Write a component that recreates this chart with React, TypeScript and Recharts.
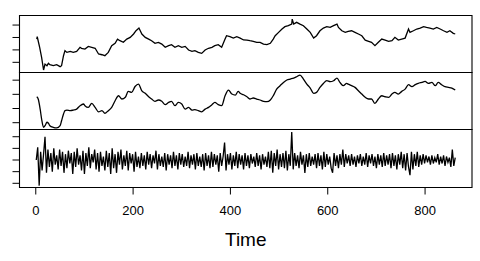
import { LineChart, Line, XAxis, YAxis, ReferenceArea } from "recharts";

// [time, value] pairs
const observed: [number, number][] = [
  [2, 1.87], [3, 2.06], [8, 1.21], [12, 0.4], [16, -0.62], [19, -0.14], [23, -0.27], [26, -0.08],
  [29, -0.19], [36, -0.27], [43, -0.19], [50, -0.35], [53, -0.27], [57, 0.53], [60, 0.94], [64, 0.8],
  [71, 0.88], [77, 0.8], [84, 0.88], [91, 1.21], [94, 1.13], [101, 1.07], [108, 1.28], [115, 1.21],
  [122, 1.13], [129, 0.67], [136, 0.61], [142, 0.53], [149, 0.8], [156, 1.34], [163, 1.53], [168, 1.87],
  [173, 1.74], [180, 1.61], [187, 1.87], [194, 2.01], [201, 2.28], [206, 2.55], [212, 2.76], [218, 2.28],
  [225, 2.01], [232, 1.87], [238, 1.74], [245, 1.53], [252, 1.61], [259, 1.47], [266, 1.21], [273, 1.34],
  [279, 1.42], [286, 1.21], [293, 1.34], [300, 1.21], [307, 1.28], [314, 0.99], [321, 0.88], [327, 0.94],
  [334, 0.8], [341, 0.72], [348, 0.99], [355, 1.13], [362, 1.21], [368, 1.34], [375, 1.42], [382, 1.21],
  [389, 1.87], [392, 2.14], [399, 2.06], [406, 1.95], [413, 2.06], [420, 1.95], [427, 1.8], [434, 1.79],
  [440, 1.74], [447, 1.69], [454, 1.61], [461, 1.61], [468, 1.47], [475, 1.42], [482, 1.53], [488, 1.87],
  [492, 2.14], [499, 2.41], [506, 2.68], [512, 2.87], [519, 2.95], [526, 3.08], [527, 3.48], [530, 3.08],
  [536, 3.22], [543, 3.08], [550, 2.95], [557, 2.68], [564, 2.41], [571, 1.95], [577, 2.14], [584, 2.54],
  [591, 2.76], [598, 2.87], [605, 2.81], [612, 2.95], [619, 3.08], [622, 2.81], [629, 2.54], [636, 2.41],
  [642, 2.49], [649, 2.54], [656, 2.41], [663, 2.28], [670, 2.14], [677, 1.79], [684, 1.69], [690, 1.61],
  [697, 1.34], [704, 1.61], [711, 1.87], [718, 1.79], [725, 1.69], [732, 1.74], [738, 2.01], [745, 1.79],
  [752, 1.87], [759, 1.95], [766, 2.68], [769, 2.41], [776, 2.54], [783, 2.68], [790, 2.76], [797, 2.87],
  [803, 2.81], [810, 2.76], [817, 2.68], [824, 2.81], [831, 2.68], [838, 2.54], [845, 2.41], [851, 2.54],
  [858, 2.33], [862, 2.28],
];

const smooth: [number, number][] = [
  [2, 1.83], [5, 1.67], [9, 0.96], [12, 0.26], [16, -0.33], [19, -0.21], [23, 0.03], [26, -0.04],
  [29, -0.21], [36, -0.33], [43, -0.37], [50, -0.21], [53, 0.14], [57, 0.61], [60, 0.85], [64, 0.89],
  [71, 0.85], [77, 0.89], [84, 0.96], [91, 1.2], [98, 1.32], [101, 1.2], [108, 1.08], [115, 1.36],
  [122, 1.08], [129, 0.77], [136, 0.85], [142, 0.66], [149, 0.85], [156, 1.08], [163, 1.55], [170, 1.9],
  [177, 1.67], [184, 1.79], [190, 2.21], [197, 2.14], [204, 2.55], [211, 2.72], [218, 2.25], [225, 2.07],
  [232, 1.83], [238, 1.67], [245, 1.51], [252, 1.6], [259, 1.51], [266, 1.27], [273, 1.43], [279, 1.51],
  [286, 1.2], [293, 1.43], [300, 1.32], [307, 0.96], [314, 1.08], [321, 0.89], [327, 0.92], [334, 0.85],
  [341, 0.77], [348, 0.96], [355, 1.08], [362, 1.27], [368, 1.43], [375, 1.27], [382, 1.2], [389, 1.9],
  [396, 2.3], [403, 2.02], [410, 1.95], [416, 2.21], [420, 2.07], [427, 1.97], [434, 1.83], [440, 1.67],
  [447, 1.74], [454, 1.67], [461, 1.6], [468, 1.51], [475, 1.48], [482, 1.6], [488, 1.9], [495, 2.37],
  [502, 2.61], [509, 2.84], [516, 3.01], [523, 3.08], [530, 3.15], [536, 3.24], [543, 3.36], [550, 3.08],
  [557, 2.72], [564, 2.44], [571, 2.07], [577, 2.14], [584, 2.49], [591, 2.77], [598, 2.96], [605, 2.89],
  [612, 2.96], [619, 3.15], [625, 2.84], [632, 2.61], [639, 2.77], [642, 2.72], [649, 2.61], [656, 2.49],
  [663, 2.25], [670, 2.02], [677, 1.79], [684, 1.67], [690, 1.67], [697, 1.36], [704, 1.67], [711, 1.9],
  [718, 1.83], [725, 1.79], [732, 2.02], [738, 2.14], [745, 2.02], [752, 2.21], [759, 2.37], [766, 2.68],
  [773, 2.54], [780, 2.68], [786, 2.77], [793, 2.84], [800, 2.91], [807, 2.77], [814, 2.84], [821, 2.61],
  [827, 2.84], [834, 2.68], [841, 2.54], [848, 2.49], [855, 2.44], [862, 2.3],
];

// residual panel, one value every 3 time steps starting at t = 1
const noiseStart = 1;
const noiseStep = 3;
const noise = [
  2.0, 3.1, -0.2, 2.7, 1.1, 2.5, 4.0, 0.9, 2.9, 1.4, 2.6, 1.0, 3.0, 1.6, 2.4, 1.2, 2.9, 1.5, 2.7, 0.9, 2.5, 1.3, 2.8, 1.7,
  2.6, 0.8, 2.7, 1.4, 3.0, 1.6, 2.4, 1.1, 2.8, 0.8, 2.6, 1.5, 3.1, 1.3, 2.5, 1.8, 2.9, 1.2, 2.6, 1.0, 2.7, 1.5, 2.3, 1.1,
  2.8, 1.4, 2.6, 0.8, 3.0, 1.3, 2.5, 0.9, 2.7, 1.6, 2.9, 1.2, 2.4, 1.5, 2.8, 1.1, 2.6, 1.7, 2.5, 1.0, 2.7, 1.4, 2.3, 1.3,
  2.6, 1.5, 2.4, 1.2, 2.7, 1.6, 2.5, 1.3, 2.4, 1.7, 2.8, 1.2, 2.5, 1.5, 2.3, 1.4, 2.6, 1.1, 2.5, 1.6, 2.4, 1.3, 2.7, 1.5,
  2.4, 1.2, 2.6, 1.6, 2.5, 1.4, 2.3, 1.5, 2.7, 1.3, 2.4, 1.6, 2.5, 1.2, 2.6, 1.5, 2.3, 1.4, 2.5, 1.1, 2.6, 1.5, 2.4, 1.3,
  2.7, 1.4, 2.5, 1.6, 2.4, 1.0, 2.6, 1.5, 2.3, 3.5, 1.1, 2.5, 1.6, 2.6, 1.2, 2.4, 1.5, 2.7, 1.3, 2.5, 1.6, 2.4, 1.2, 2.6,
  1.5, 2.4, 1.3, 2.5, 1.7, 2.3, 1.4, 2.6, 1.5, 2.4, 1.2, 2.5, 1.6, 2.3, 1.4, 2.7, 1.3, 2.8, 0.9, 2.6, 1.5, 2.9, 1.2, 2.5,
  1.4, 2.6, 1.3, 2.8, 1.1, 2.5, 1.5, 4.4, 1.2, 2.6, 1.5, 2.4, 1.3, 2.7, 1.6, 2.4, 0.9, 2.5, 1.4, 2.6, 1.5, 2.3, 1.6, 2.5,
  1.3, 2.6, 1.5, 2.4, 1.2, 2.7, 1.4, 2.5, 1.6, 2.3, 1.3, 0.9, 2.6, 1.5, 2.4, 1.3, 2.5, 1.6, 2.9, 1.4, 2.5, 1.7, 2.4, 1.5,
  2.5, 1.6, 2.3, 1.4, 2.4, 1.7, 2.5, 1.5, 2.3, 1.6, 2.6, 1.4, 2.4, 1.7, 2.5, 1.5, 2.3, 1.3, 2.5, 1.6, 2.4, 1.4, 2.6, 1.5,
  2.4, 1.6, 2.5, 1.3, 2.6, 1.5, 2.4, 1.2, 2.5, 1.6, 2.7, 1.3, 2.5, 1.1, 2.6, 1.4, 0.7, 2.7, 1.2, 2.5, 1.5, 2.7, 1.4, 2.4,
  1.6, 2.5, 1.7, 2.4, 1.8, 2.3, 1.6, 2.4, 1.7, 2.2, 1.8, 2.5, 1.6, 2.3, 1.7, 2.4, 1.5, 2.3, 1.8, 2.2, 1.4, 2.9, 1.5, 2.2,
];

const timeTicks = [0, 200, 400, 600, 800];
const xDomain: [number, number] = [-33.44, 896.44];

const FONT = "'Liberation Sans', Arial, sans-serif";

type Panel = {
  data: { t: number; v: number }[];
  domain: [number, number];
  ticks: number[];
  top: number;
  bottom: number;
  curve: "linear" | "monotone";
  showX: boolean;
};

const toRows = (pairs: [number, number][]) => pairs.map(([t, v]) => ({ t, v }));

const panels: Panel[] = [
  { data: toRows(observed), domain: [-0.82, 3.77], ticks: [0, 1, 2, 3], top: 15.5, bottom: 188.5, curve: "linear", showX: false },
  { data: toRows(smooth), domain: [-0.48, 3.54], ticks: [0, 1, 2, 3], top: 72.5, bottom: 131.5, curve: "monotone", showX: false },
  {
    data: noise.map((v, i) => ({ t: noiseStart + i * noiseStep, v })),
    domain: [-0.36, 4.62],
    ticks: [0, 1, 2, 3, 4],
    top: 129.5,
    bottom: 43.5,
    curve: "linear",
    showX: true,
  },
];

function PanelChart({ p }: { p: Panel }) {
  return (
    <div style={{ position: "absolute", left: 0, top: 0 }}>
      <LineChart width={480} height={261} data={p.data} margin={{ top: p.top, right: 8, bottom: p.bottom, left: 0 }}>
        <XAxis
          dataKey="t"
          type="number"
          domain={xDomain}
          allowDataOverflow
          hide={!p.showX}
          ticks={timeTicks}
          height={30}
          axisLine={false}
          tickLine={{ stroke: "#000" }}
          tickSize={7}
          tickMargin={11}
          tick={{ fill: "#000", fontSize: 13, fontFamily: FONT }}
          label={p.showX ? { value: "Time", position: "bottom", offset: 15, fill: "#000", fontSize: 19, fontFamily: FONT } : undefined}
        />
        <YAxis
          type="number"
          domain={p.domain}
          allowDataOverflow
          ticks={p.ticks}
          width={19.5}
          axisLine={false}
          tickLine={{ stroke: "#000" }}
          tickSize={7}
          tickFormatter={() => ""}
        />
        <ReferenceArea
          x1={xDomain[0]}
          x2={xDomain[1]}
          y1={p.domain[0]}
          y2={p.domain[1]}
          fill="none"
          fillOpacity={0}
          stroke="#000"
          strokeWidth={1.1}
          ifOverflow="visible"
        />
        <Line type={p.curve} dataKey="v" stroke="#000" strokeWidth={1.3} dot={false} isAnimationActive={false} />
      </LineChart>
    </div>
  );
}

export default function App() {
  return (
    <div style={{ position: "absolute", left: 0, top: 0, width: 480, height: 261, background: "#fff", fontFamily: FONT }}>
      {panels.map((p, i) => (
        <PanelChart key={i} p={p} />
      ))}
    </div>
  );
}
